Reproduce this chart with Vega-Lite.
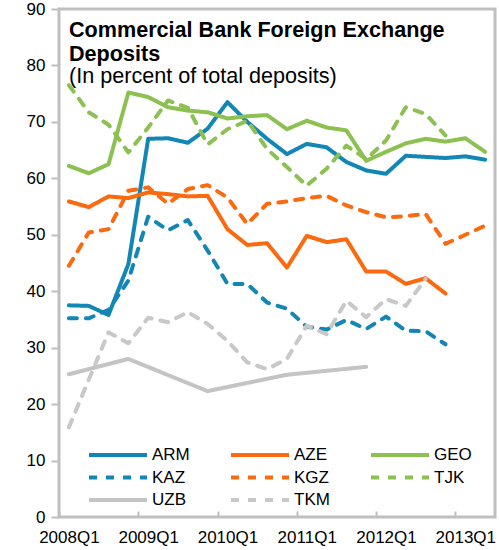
{
  "$schema": "https://vega.github.io/schema/vega-lite/v6.json",
  "width": 436,
  "height": 508,
  "autosize": {"type": "none"},
  "padding": {"left": 59, "top": 9, "right": 4, "bottom": 33},
  "background": "white",
  "config": {
    "font": "Liberation Sans",
    "view": {"stroke": "#bfbfbf", "strokeWidth": 3},
    "axis": {"domain": false, "grid": false, "tickColor": "#bfbfbf", "tickWidth": 2, "labelFontSize": 17, "labelColor": "black", "labelFont": "Liberation Sans", "title": null}
  },
  "title": {
    "text": ["Commercial Bank Foreign Exchange", "Deposits"],
    "subtitle": "(In percent of total deposits)",
    "anchor": "start", "frame": "group", "orient": "top",
    "font": "Liberation Sans", "fontSize": 21.6, "fontWeight": "bold", "lineHeight": 24, "color": "black",
    "subtitleFont": "Liberation Sans", "subtitleFontSize": 21.6, "subtitleLineHeight": 24, "subtitleColor": "black", "subtitlePadding": 1,
    "offset": 0, "dx": 10, "dy": 88
  },
  "data": {"values": [
    {"quarter": "2008Q1", "ARM": 37.5, "AZE": 55.9, "GEO": 62.2, "KAZ": 35.2, "KGZ": 44.5, "TJK": 76.5, "UZB": 25.3, "TKM": 15.9},
    {"quarter": "2008Q2", "ARM": 37.4, "AZE": 54.9, "GEO": 60.9, "KAZ": 35.2, "KGZ": 50.4, "TJK": 71.7, "UZB": null, "TKM": 24.3},
    {"quarter": "2008Q3", "ARM": 35.8, "AZE": 56.8, "GEO": 62.5, "KAZ": 36.7, "KGZ": 51.0, "TJK": 69.5, "UZB": null, "TKM": 32.7},
    {"quarter": "2008Q4", "ARM": 44.8, "AZE": 56.5, "GEO": 75.2, "KAZ": 41.9, "KGZ": 57.8, "TJK": 64.6, "UZB": 28.0, "TKM": 30.8},
    {"quarter": "2009Q1", "ARM": 67.0, "AZE": 57.5, "GEO": 74.4, "KAZ": 53.2, "KGZ": 58.4, "TJK": 69.0, "UZB": null, "TKM": 35.3},
    {"quarter": "2009Q2", "ARM": 67.1, "AZE": 57.2, "GEO": 72.6, "KAZ": 50.8, "KGZ": 55.5, "TJK": 73.8, "UZB": null, "TKM": 34.5},
    {"quarter": "2009Q3", "ARM": 66.3, "AZE": 56.8, "GEO": 72.0, "KAZ": 52.6, "KGZ": 58.1, "TJK": 72.5, "UZB": null, "TKM": 36.3},
    {"quarter": "2009Q4", "ARM": 68.8, "AZE": 56.9, "GEO": 71.7, "KAZ": 47.2, "KGZ": 58.8, "TJK": 66.0, "UZB": 22.3, "TKM": 34.2},
    {"quarter": "2010Q1", "ARM": 73.5, "AZE": 51.0, "GEO": 70.6, "KAZ": 41.3, "KGZ": 56.6, "TJK": 68.7, "UZB": null, "TKM": 31.2},
    {"quarter": "2010Q2", "ARM": 70.0, "AZE": 48.2, "GEO": 71.0, "KAZ": 41.3, "KGZ": 51.9, "TJK": 70.2, "UZB": null, "TKM": 27.4},
    {"quarter": "2010Q3", "ARM": 67.0, "AZE": 48.5, "GEO": 71.2, "KAZ": 38.0, "KGZ": 55.5, "TJK": 65.2, "UZB": null, "TKM": 26.2},
    {"quarter": "2010Q4", "ARM": 64.3, "AZE": 44.2, "GEO": 68.7, "KAZ": 36.9, "KGZ": 55.9, "TJK": 62.0, "UZB": 25.2, "TKM": 28.0},
    {"quarter": "2011Q1", "ARM": 66.1, "AZE": 49.8, "GEO": 70.2, "KAZ": 33.7, "KGZ": 56.5, "TJK": 58.7, "UZB": null, "TKM": 33.9},
    {"quarter": "2011Q2", "ARM": 65.5, "AZE": 48.7, "GEO": 69.0, "KAZ": 33.2, "KGZ": 56.9, "TJK": 61.7, "UZB": null, "TKM": 32.4},
    {"quarter": "2011Q3", "ARM": 62.9, "AZE": 49.2, "GEO": 68.5, "KAZ": 34.9, "KGZ": 55.2, "TJK": 65.8, "UZB": null, "TKM": 38.3},
    {"quarter": "2011Q4", "ARM": 61.4, "AZE": 43.5, "GEO": 63.1, "KAZ": 33.3, "KGZ": 54.0, "TJK": 63.4, "UZB": 26.6, "TKM": 35.4},
    {"quarter": "2012Q1", "ARM": 60.8, "AZE": 43.5, "GEO": 64.7, "KAZ": 35.5, "KGZ": 53.1, "TJK": 66.7, "UZB": null, "TKM": 38.6},
    {"quarter": "2012Q2", "ARM": 64.0, "AZE": 41.3, "GEO": 66.2, "KAZ": 33.0, "KGZ": 53.3, "TJK": 72.6, "UZB": null, "TKM": 37.4},
    {"quarter": "2012Q3", "ARM": 63.8, "AZE": 42.3, "GEO": 67.0, "KAZ": 32.9, "KGZ": 53.7, "TJK": 71.4, "UZB": null, "TKM": 42.2},
    {"quarter": "2012Q4", "ARM": 63.6, "AZE": 39.6, "GEO": 66.5, "KAZ": 30.6, "KGZ": 48.4, "TJK": 67.6, "UZB": null, "TKM": null},
    {"quarter": "2013Q1", "ARM": 63.9, "AZE": null, "GEO": 67.1, "KAZ": null, "KGZ": 50.0, "TJK": null, "UZB": null, "TKM": null},
    {"quarter": "2013Q2", "ARM": 63.3, "AZE": null, "GEO": 64.7, "KAZ": null, "KGZ": 51.6, "TJK": null, "UZB": null, "TKM": null}
  ]},
  "transform": [
    {"fold": ["ARM", "AZE", "GEO", "KAZ", "KGZ", "TJK", "UZB", "TKM"], "as": ["series", "value"]},
    {"filter": "isValid(datum.value)"}
  ],
  "mark": {"type": "line", "strokeWidth": 4, "strokeCap": "round", "strokeJoin": "round"},
  "encoding": {
    "x": {
      "field": "quarter", "type": "ordinal",
      "scale": {"type": "point", "padding": 0.5, "domain": ["2008Q1","2008Q2","2008Q3","2008Q4","2009Q1","2009Q2","2009Q3","2009Q4","2010Q1","2010Q2","2010Q3","2010Q4","2011Q1","2011Q2","2011Q3","2011Q4","2012Q1","2012Q2","2012Q3","2012Q4","2013Q1","2013Q2"]},
      "axis": {"values": ["2008Q1","2009Q1","2010Q1","2011Q1","2012Q1","2013Q1"], "labelAngle": 0, "tickSize": -6, "tickOffset": -9.91, "labelOffset": 9.91, "labelPadding": 18}
    },
    "y": {
      "field": "value", "type": "quantitative",
      "scale": {"domain": [0, 90], "nice": false},
      "axis": {"values": [0,10,20,30,40,50,60,70,80,90], "tickSize": 8, "labelPadding": 6}
    },
    "color": {
      "field": "series", "type": "nominal",
      "scale": {"domain": ["ARM","AZE","GEO","KAZ","KGZ","TJK","UZB","TKM"], "range": ["#1287b5","#fb6a0e","#8cc152","#1287b5","#fb6a0e","#8cc152","#c4c4c4","#c8c8c8"]},
      "legend": {"title": null, "orient": "none", "direction": "horizontal", "legendX": 47, "legendY": 434, "columns": 3, "columnPadding": 33, "rowPadding": 2.5, "symbolType": "M-2.9,0H2.9", "symbolSize": 400, "symbolStrokeWidth": 4, "labelFontSize": 17, "labelColor": "black", "labelFont": "Liberation Sans", "labelOffset": 22}
    },
    "strokeDash": {
      "field": "series", "type": "nominal",
      "scale": {"domain": ["ARM","AZE","GEO","KAZ","KGZ","TJK","UZB","TKM"], "range": [[1,0],[1,0],[1,0],[8,9],[8,9],[8,9],[1,0],[8,9]]},
      "legend": {"title": null, "orient": "none", "direction": "horizontal", "legendX": 47, "legendY": 434, "columns": 3, "columnPadding": 33, "rowPadding": 2.5, "symbolType": "M-2.9,0H2.9", "symbolSize": 400, "symbolStrokeWidth": 4, "labelFontSize": 17, "labelColor": "black", "labelFont": "Liberation Sans", "labelOffset": 22}
    }
  }
}
